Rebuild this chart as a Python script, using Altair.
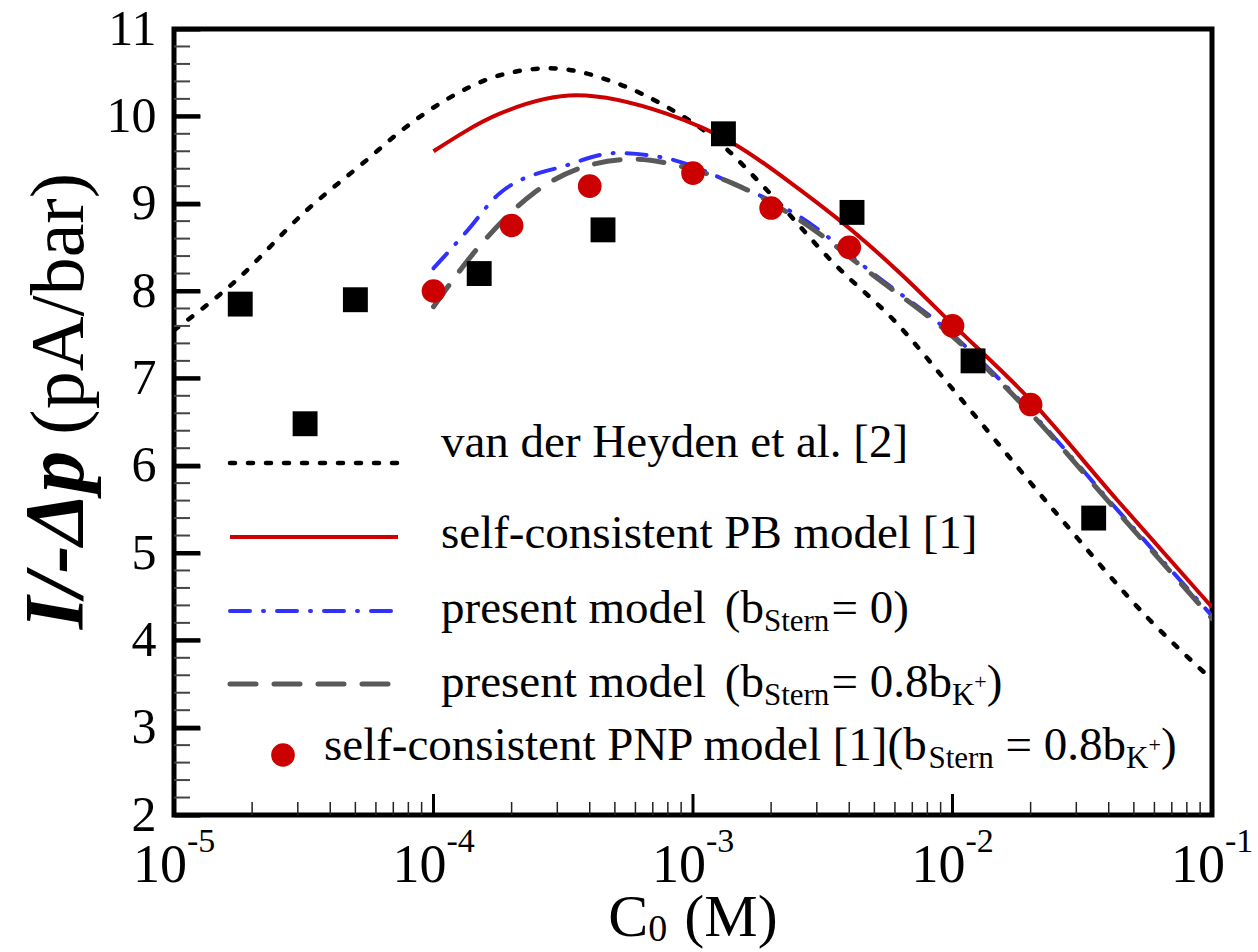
import altair as alt
import pandas as pd

FONT = "'Liberation Serif', 'Times New Roman', Times, 'DejaVu Serif', serif"
NB = "\u00a0"

# ---------------- data ----------------
vdh_x = [1e-5, 1.69e-5, 3.26e-5, 5.53e-5, 7.4e-5, 1.09e-4, 1.8e-4, 2.81e-4, 5.08e-4,
         7.9e-4, 1.23e-3, 1.92e-3, 3.48e-3, 6.1e-3, 1.0e-2, 2.52e-2, 5.77e-2, 1e-1]
vdh_y = [7.55, 8.09, 8.93, 9.5, 9.82, 10.17, 10.47, 10.55, 10.38,
         10.11, 9.73, 9.16, 8.32, 7.63, 6.88, 5.45, 4.23, 3.55]

pb_x = [1e-4, 1.8e-4, 3.56e-4, 7.9e-4, 1.43e-3, 2.58e-3, 4.67e-3, 6.3e-3, 1e-2, 2e-2, 4.3e-2, 1e-1]
pb_y = [9.6, 10.03, 10.24, 10.03, 9.69, 9.16, 8.55, 8.2, 7.62, 6.75, 5.61, 4.38]

b0_x = [1e-4, 1.34e-4, 1.8e-4, 3.26e-4, 5.08e-4, 7.9e-4, 1.43e-3, 2.58e-3, 4.95e-3, 1e-2, 2e-2, 4.3e-2, 1e-1]
b0_y = [8.26, 8.68, 9.12, 9.44, 9.58, 9.52, 9.23, 8.85, 8.2, 7.5, 6.62, 5.5, 4.28]

b8_x = [1e-4, 1.5e-4, 2.43e-4, 3.78e-4, 5.89e-4, 9.2e-4, 1.43e-3, 2.58e-3, 4.95e-3, 1e-2, 2e-2, 4.3e-2, 1e-1]
b8_y = [7.82, 8.51, 9.12, 9.42, 9.51, 9.42, 9.23, 8.81, 8.18, 7.48, 6.6, 5.48, 4.25]

pnp_x = [1e-4, 2e-4, 4e-4, 1e-3, 2e-3, 4e-3, 1e-2, 2e-2]
pnp_y = [8.0, 8.75, 9.2, 9.35, 8.95, 8.5, 7.6, 6.7]

exp_x = [1.8e-5, 3.2e-5, 5e-5, 1.5e-4, 4.5e-4, 1.31e-3, 4.1e-3, 1.2e-2, 3.5e-2]
exp_y = [7.85, 6.48, 7.9, 8.2, 8.7, 9.8, 8.9, 7.2, 5.4]

x_major = [1e-5, 1e-4, 1e-3, 1e-2, 1e-1]
x_exp = ["-5", "-4", "-3", "-2", "-1"]
x_minor = [m * d for d in [1e-5, 1e-4, 1e-3, 1e-2] for m in range(2, 10)]
y_major = [2, 3, 4, 5, 6, 7, 8, 9, 10, 11]
y_minor = [round(v + f, 1) for v in range(2, 11) for f in (0.2, 0.4, 0.6, 0.8)]

# ---------------- layout ----------------
W, H = 1038, 786
PADL, PADT = 174, 29
PX_PER_DECADE = W / 4.0
PX_PER_UNIT = H / 9.0

xs = alt.Scale(type="log", domain=[1e-5, 1e-1], nice=False)
ys = alt.Scale(domain=[2, 11], nice=False, zero=False)
# native axis: ticks point outward from an axis moved 26 px inside the frame -> inward ticks
yaxis = alt.Axis(values=y_major, labelFont=FONT, labelFontSize=50, labelColor="black",
                 ticks=True, tickSize=26, tickWidth=4, tickColor="black", offset=-26,
                 domain=False, grid=False, labelPadding=18, title=None, zindex=2)

S_VDH = dict(color="black", strokeWidth=4.5, strokeDash=[5, 13], strokeCap="round")
S_PB = dict(color="#cc0000", strokeWidth=4)
S_B0 = dict(color="#3030ff", strokeWidth=4, strokeDash=[20, 13, 1, 13], strokeCap="round")
S_B8 = dict(color="#595959", strokeWidth=5, strokeDash=[26, 18], strokeCap="round")

ONE = alt.Data(values=[{"k": 0}])

TW = {' ': 250, NB: 250, '(': 333, ')': 333, '+': 564, '-': 333, '.': 250, '/': 278, '=': 564,
      '[': 333, ']': 333, 'A': 722, 'B': 667, 'C': 667, 'H': 722, 'K': 722, 'M': 889,
      'N': 722, 'P': 556, 'S': 556, 'a': 444, 'b': 500, 'c': 444, 'd': 500, 'e': 444,
      'f': 333, 'i': 278, 'l': 278, 'm': 778, 'n': 500, 'o': 500, 'p': 500, 'r': 333,
      's': 389, 't': 278, 'v': 500, 'y': 500}


def tw(s, size):
    return sum(TW.get(c, 500) for c in s) * size / 1000.0


def text_at(t, x, y, size, align="left", baseline="alphabetic", **kw):
    return alt.Chart(ONE).mark_text(text=t, font=FONT, fontSize=size, align=align,
                                    baseline=baseline, color="black", **kw).encode(
        x=alt.value(x), y=alt.value(y))


def rich(pieces, x0, y0):
    out = []
    x = x0
    for t, size, dy, gap in pieces:
        x += gap
        out.append(text_at(t, x, y0 + dy, size))
        x += tw(t, size)
    return out


def rich_width(pieces):
    return sum(tw(t, s) + g for t, s, _, g in pieces)


def curve(xv, yv, style):
    df = pd.DataFrame({"x": xv, "y": yv})
    return alt.Chart(df).mark_line(clip=True, interpolate="monotone", **style).encode(
        x=alt.X("x:Q", scale=xs, axis=None),
        y=alt.Y("y:Q", scale=ys, axis=yaxis))


def xticks(vals, length, width, color):
    df = pd.DataFrame({"tv": vals, "ya": [2.0] * len(vals),
                       "yb": [2.0 + length / PX_PER_UNIT] * len(vals)})
    return alt.Chart(df).mark_rule(color=color, strokeWidth=width).encode(
        x=alt.X("tv:Q", scale=xs, axis=None),
        y=alt.Y("ya:Q", scale=ys, axis=yaxis), y2="yb:Q")


def yticks(vals, length, width, color):
    x_in = 1e-5 * 10 ** (length / PX_PER_DECADE)
    rows = []
    for i, v in enumerate(vals):
        rows.append({"tid": i, "tx": 1e-5, "ty": v})
        rows.append({"tid": i, "tx": x_in, "ty": v})
    df = pd.DataFrame(rows)
    return alt.Chart(df).mark_line(color=color, strokeWidth=width, strokeCap="butt").encode(
        x=alt.X("tx:Q", scale=xs, axis=None),
        y=alt.Y("ty:Q", scale=ys, axis=yaxis),
        detail="tid:N")


layers = [xticks(x_minor, 13, 1.5, "#222"), xticks(x_major, 21, 3, "black")]

layers.append(curve(vdh_x, vdh_y, S_VDH))
layers.append(curve(pb_x, pb_y, S_PB))
layers.append(curve(b0_x, b0_y, S_B0))
layers.append(curve(b8_x, b8_y, S_B8))

layers.append(yticks(y_minor, 16, 2, "#444444"))
layers.append(yticks(y_major, 26, 4, "#000000"))

layers.append(alt.Chart(pd.DataFrame({"x": pnp_x, "y": pnp_y})).mark_point(
    shape="circle", filled=True, size=560, color="#cc0000", opacity=1).encode(
    x=alt.X("x:Q", scale=xs, axis=None), y=alt.Y("y:Q", scale=ys, axis=yaxis)))
layers.append(alt.Chart(pd.DataFrame({"x": exp_x, "y": exp_y})).mark_point(
    shape="square", filled=True, size=620, color="black", opacity=1).encode(
    x=alt.X("x:Q", scale=xs, axis=None), y=alt.Y("y:Q", scale=ys, axis=yaxis)))

xl = pd.DataFrame({"v": x_major, "e": x_exp})
layers.append(alt.Chart(xl).mark_text(font=FONT, fontSize=54, align="left", baseline="alphabetic",
                                      dx=-41, color="black").encode(
    x=alt.X("v:Q", scale=xs, axis=None), y=alt.value(853), text=alt.value("10")))
layers.append(alt.Chart(xl).mark_text(font=FONT, fontSize=34, align="left", baseline="alphabetic",
                                      dx=13, color="black").encode(
    x=alt.X("v:Q", scale=xs, axis=None), y=alt.value(823), text="e:N"))

xt = [("C", 60, 0, 0), ("0", 38, 5, 0), ("(M)", 60, 0, 17)]
layers += rich(xt, (693 - PADL) - rich_width(xt) / 2, 907)

layers.append(text_at("(pA/bar)", -91, 144, 76, align="right", angle=270))
layers.append(text_at("I/-Δp", -91, 144 + tw("(pA/bar)", 76) + 16, 84, align="right", angle=270,
                      fontStyle="italic", fontWeight="bold"))

LX0, LX1, TX = 230 - PADL, 398 - PADL, 441 - PADL
for ly, st in [(434, S_VDH), (508, S_PB), (582, S_B0), (655, S_B8)]:
    layers.append(alt.Chart(ONE).mark_rule(**st).encode(
        x=alt.value(LX0), x2=alt.value(LX1), y=alt.value(ly)))
layers.append(alt.Chart(ONE).mark_point(shape="circle", filled=True, size=560, color="#cc0000",
                                        opacity=1).encode(x=alt.value(109), y=alt.value(726)))

FS, SS = 47, 31
SP = 0.25 * FS
layers += rich([("van der Heyden et al. [2]", FS, 0, 0)], TX, 428)
layers += rich([("self-consistent PB model [1]", FS, 0, 0)], TX, 519)
layers += rich([("present model", FS, 0, 0), ("(b", FS, 0, 1.6 * SP), ("Stern", SS, 8, 0),
                ("=", FS, 0, 2), ("0)", FS, 0, SP)], TX, 594)
layers += rich([("present model", FS, 0, 0), ("(b", FS, 0, 1.6 * SP), ("Stern", SS, 8, 0),
                ("=", FS, 0, 2), ("0.8b", FS, 0, SP),
                ("K", SS, 8, 0), ("+", 22, -8, 0), (")", FS, 0, 0)], TX, 668)
layers += rich([("self-consistent PNP model [1](b", FS, 0, 0), ("Stern", SS, 8, 0),
                ("=", FS, 0, SP), ("0.8b", FS, 0, SP),
                ("K", SS, 8, 0), ("+", 22, -8, 0), (")", FS, 0, 0)], 324 - PADL, 731)

chart = alt.layer(*layers).properties(
    width=W, height=H,
    padding={"left": PADL, "top": PADT, "right": 1258 - PADL - W, "bottom": 952 - PADT - H},
    autosize=alt.AutoSizeParams(type="none"),
).configure_view(stroke="black", strokeWidth=5)

chart.save("out.html", embed_options={"renderer": "svg", "actions": False})
